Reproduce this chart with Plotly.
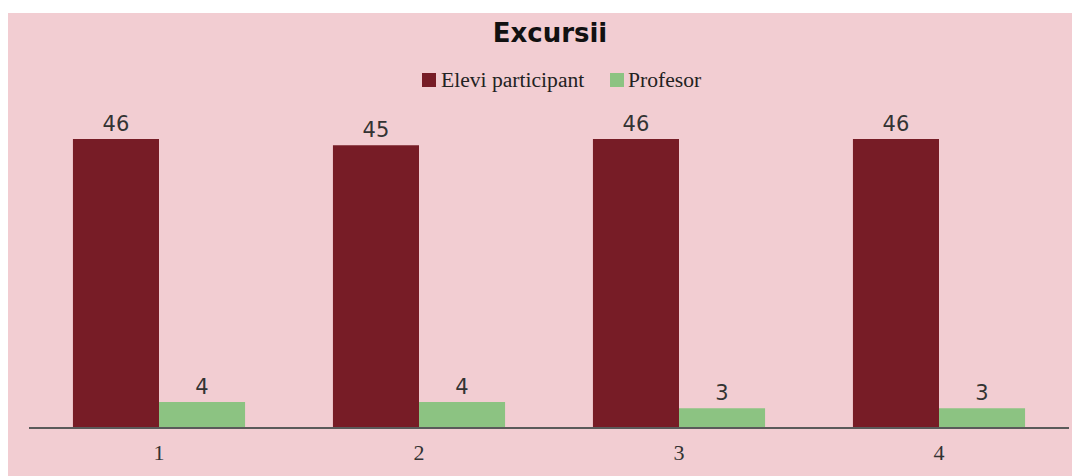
import plotly.graph_objects as go

categories = ["1", "2", "3", "4"]
series_names = ["Elevi participant", "Profesor"]
elevi = [46, 45, 46, 46]
profesor = [4, 4, 3, 3]

PINK = "#f2cdd2"
MAROON = "#771c26"
GREEN = "#8cc382"

# page is rendered with an 8px body margin
OFF = 8
W, H = 1072, 468
# plot area in page pixels
PX0, PX1 = 29, 1069
PY0, PY1 = 108, 427
L = PX0 - OFF
R = W - (PX1 - OFF)
T = PY0 - OFF
B = H - (PY1 - OFF)
pw = PX1 - PX0
ph = PY1 - PY0


def px_x(p):
    return (p - PX0) / pw


def px_y(p):
    return (PY1 - p) / ph


fig = go.Figure()
for name, vals, col in [(series_names[0], elevi, MAROON), (series_names[1], profesor, GREEN)]:
    fig.add_trace(go.Bar(
        name=name, x=categories, y=vals,
        marker=dict(color=col, line=dict(width=0)),
        text=vals, textposition="outside", cliponaxis=False,
        textfont=dict(family="DejaVu Sans", size=21, color="#333333"),
        showlegend=False,
    ))

shapes = [
    dict(type="rect", xref="paper", yref="paper", x0=px_x(0), x1=px_x(1200),
         y0=px_y(13), y1=px_y(OFF - 1), fillcolor="white", line=dict(width=0), layer="below"),
    # legend swatches
    dict(type="rect", xref="paper", yref="paper", x0=px_x(422), x1=px_x(436),
         y0=px_y(87), y1=px_y(73), fillcolor=MAROON, line=dict(width=0)),
    dict(type="rect", xref="paper", yref="paper", x0=px_x(610), x1=px_x(624),
         y0=px_y(87), y1=px_y(73), fillcolor=GREEN, line=dict(width=0)),
]
annotations = [
    dict(text=series_names[0], xref="paper", yref="paper", x=px_x(439), y=px_y(80),
         xanchor="left", yanchor="middle", showarrow=False,
         font=dict(family="Liberation Serif", size=21.6, color="#222222")),
    dict(text=series_names[1], xref="paper", yref="paper", x=px_x(626), y=px_y(80),
         xanchor="left", yanchor="middle", showarrow=False,
         font=dict(family="Liberation Serif", size=21.6, color="#222222")),
]

fig.update_layout(
    width=W, height=H,
    margin=dict(l=L, r=R, t=T, b=B, pad=0, autoexpand=False),
    paper_bgcolor=PINK, plot_bgcolor="rgba(0,0,0,0)",
    barmode="group", bargap=0.338, bargroupgap=0,
    title=dict(text="<b>Excursii</b>", x=(550 - OFF) / W, xanchor="center",
               y=1 - (33 - OFF) / H, yanchor="middle",
               font=dict(family="DejaVu Sans", size=26, color="#111111")),
    showlegend=False,
    shapes=shapes,
    annotations=annotations,
)
fig.update_xaxes(
    automargin=False,
    showline=True, linecolor="#5a5a5a", linewidth=2, showgrid=False, zeroline=False,
    ticks="", tickfont=dict(family="Liberation Serif", size=22, color="#333333"),
    ticklabelstandoff=5, range=[-0.5, 3.5],
)
fig.update_yaxes(
    automargin=False,
    visible=False, range=[0, ph / 6.26], showgrid=False, zeroline=False,
)

fig.write_html("out.html")
